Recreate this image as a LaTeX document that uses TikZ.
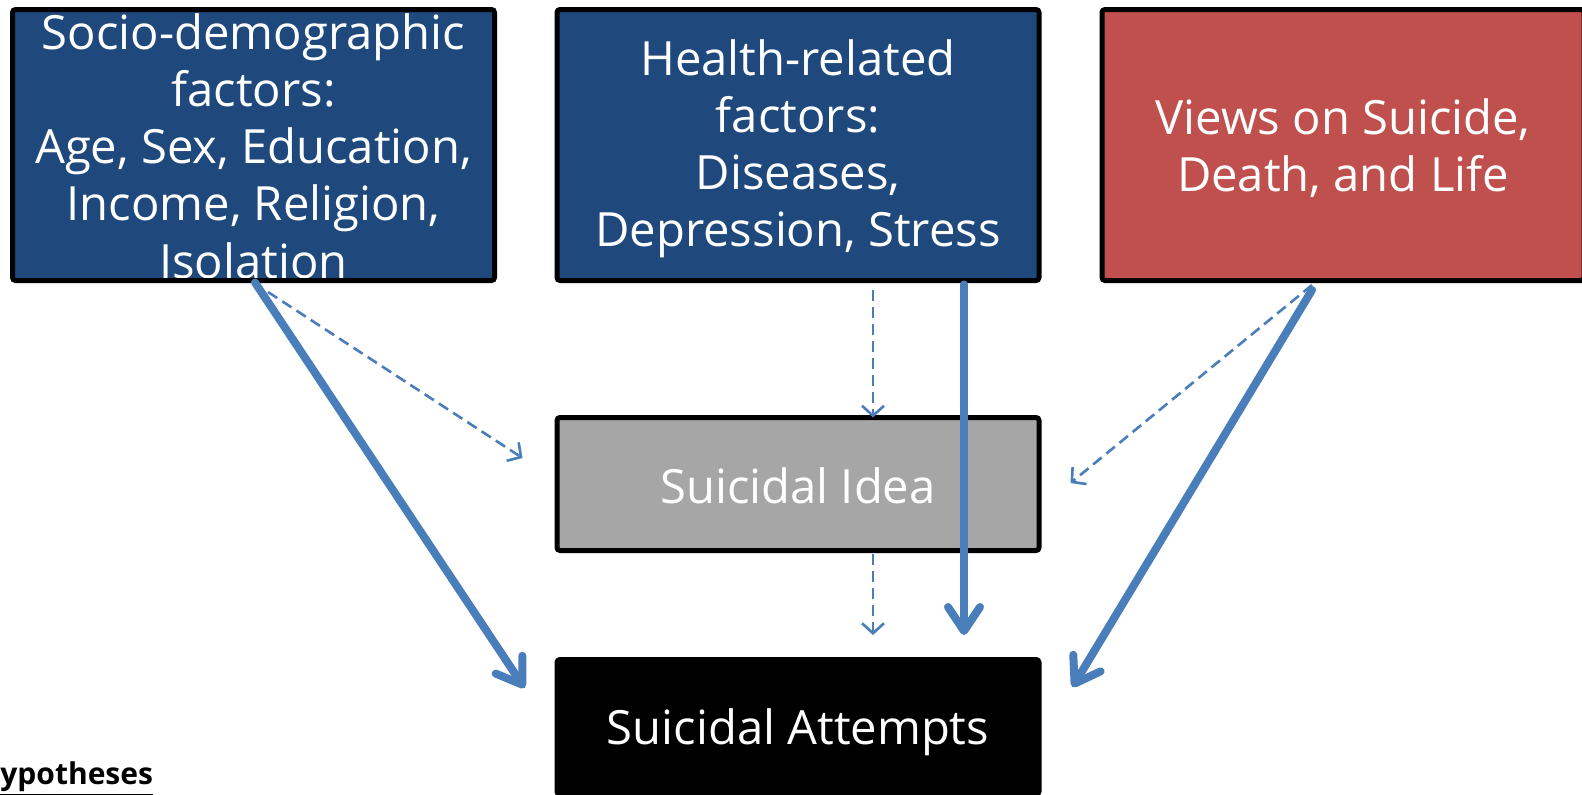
\documentclass[tikz,border=0pt]{standalone}
\usepackage{fontspec}
\setmainfont{Open Sans}
\usetikzlibrary{arrows.meta}
\definecolor{navy}{HTML}{1F497D}
\definecolor{redbox}{HTML}{C0504D}
\definecolor{graybox}{HTML}{A6A6A6}
\definecolor{arrowblue}{HTML}{4A7EBB}
\begin{document}
\begin{tikzpicture}[x=0.5pt,y=-0.5pt,
  boxfill/.style={outer sep=0pt, inner sep=0pt, minimum width=241pt, rounded corners=1.5pt},
  topbox/.style={boxfill, minimum height=135.5pt},
  frame/.style={draw=black, line width=2.5pt, rounded corners=1.5pt},
  boxtext/.style={text=white, align=center, inner sep=0pt, font=\fontsize{23.6}{28.6}\selectfont},
  solidarrow/.style={draw=arrowblue, line width=4pt, line cap=round, -{Straight Barb[length=12pt,width=16pt,round]}},
  dasharrow/.style={draw=arrowblue, line width=1.3pt, dash pattern=on 5.5pt off 3pt, -{Straight Barb[length=5pt,width=11pt]}},
]
\useasboundingbox (0,0) rectangle (1582,794);
\clip (0,0) rectangle (1582,794);

% boxes
\node[topbox, fill=navy] (socio) at (253.5,145) {};
\node[topbox, fill=navy] (health) at (798,145) {};
\node[topbox, fill=redbox] (views) at (1343,145) {};
\node[boxfill, fill=graybox, minimum height=66.5pt] (idea) at (798,484) {};
\node[boxfill, fill=black, minimum height=67.5pt] (attempts) at (798,727) {};

% texts
\node[boxtext, yshift=-0.5pt] (sociot) at (socio.center) {Socio-demographic\\factors:\\Age, Sex, Education,\\Income, Religion,\\Isolation};
\node[boxtext, yshift=-1.8pt] (healtht) at (health.center) {Health-related\\factors:\\Diseases,\\Depression, Stress};
\node[boxtext, yshift=-1.5pt] (viewst) at (views.center) {Views on Suicide,\\Death, and Life};
\node[boxtext, yshift=-1pt] (ideat) at (idea.center) {Suicidal Idea};
\node[boxtext, yshift=-2.5pt] (attemptst) at (attempts.center) {Suicidal Attempts};

% frames
\foreach \b in {socio,health,views,idea,attempts}
  \draw[frame] (\b.north west) rectangle (\b.south east);

% connectors
\draw[solidarrow] ([shift={(1.5,2)}]socio.south) -- ([shift={(-32.5,28.5)}]attempts.north west);
\draw[dasharrow] ([shift={(14.5,11.5)}]socio.south) -- ([shift={(-34.5,-26)}]idea.west);
\draw[dasharrow] ([shift={(75,9.5)}]health.south) -- ([shift={(75,0)}]idea.north);
\draw[solidarrow] ([shift={(166,4)}]health.south) -- ([shift={(166,-24.5)}]attempts.north);
\draw[dasharrow] ([shift={(75,3)}]idea.south) -- ([shift={(75,-24.5)}]attempts.north);
\draw[dasharrow] ([shift={(-31,4.5)}]views.south) -- ([shift={(31.5,-1)}]idea.east);
\draw[solidarrow] ([shift={(-31,9.5)}]views.south) -- ([shift={(33.5,27.5)}]attempts.north east);

% caption
\node[anchor=base west, inner sep=0pt, font=\bfseries\fontsize{15}{18}\selectfont] (hyp) at (0,784) {\underline{ypotheses}};
\end{tikzpicture}
\end{document}
